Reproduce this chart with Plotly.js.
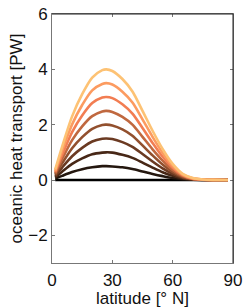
<!DOCTYPE html>
<html>
<head>
<meta charset="utf-8">
<script src="https://cdn.plot.ly/plotly-3.0.1.min.js"></script>
<style>
html,body{margin:0;padding:0;background:#fff;}
#chart{width:247px;height:308px;}
</style>
</head>
<body>
<div id="chart"></div>
<script>
var latitude = [1.6, 5, 10, 15, 20, 25, 27, 30, 35, 40, 45, 50, 55, 60, 65, 70, 75, 80, 87.5];

var transport00 = [0, 0, 0, 0, 0, 0, 0, 0, 0, 0, 0, 0, 0, 0, 0, 0, 0, 0, 0];
var transport05 = [0.05, 0.15, 0.29, 0.39, 0.46, 0.5, 0.5, 0.49, 0.46, 0.4, 0.31, 0.22, 0.14, 0.07, 0.03, 0.009, 0.003, 0, 0];
var transport10 = [0.1, 0.3, 0.58, 0.78, 0.93, 0.99, 1.0, 0.99, 0.91, 0.8, 0.63, 0.45, 0.28, 0.15, 0.055, 0.018, 0.005, 0.001, 0];
var transport15 = [0.14, 0.45, 0.86, 1.16, 1.39, 1.49, 1.5, 1.48, 1.37, 1.2, 0.94, 0.67, 0.42, 0.22, 0.08, 0.026, 0.008, 0.002, 0];
var transport20 = [0.19, 0.6, 1.15, 1.55, 1.85, 1.99, 2.0, 1.97, 1.83, 1.6, 1.25, 0.89, 0.56, 0.29, 0.11, 0.035, 0.01, 0.002, 0];
var transport25 = [0.24, 0.75, 1.44, 1.94, 2.31, 2.48, 2.5, 2.46, 2.28, 2.0, 1.56, 1.11, 0.7, 0.36, 0.14, 0.04, 0.013, 0.003, 0];
var transport30 = [0.29, 0.9, 1.73, 2.33, 2.78, 2.98, 3.0, 2.96, 2.74, 2.4, 1.88, 1.34, 0.84, 0.44, 0.17, 0.05, 0.015, 0.003, 0];
var transport35 = [0.33, 1.05, 2.01, 2.71, 3.24, 3.47, 3.5, 3.45, 3.19, 2.8, 2.19, 1.56, 0.98, 0.51, 0.19, 0.06, 0.018, 0.004, 0];
var transport40 = [0.38, 1.2, 2.3, 3.1, 3.7, 3.97, 4.0, 3.94, 3.65, 3.2, 2.5, 1.78, 1.12, 0.58, 0.22, 0.07, 0.02, 0.004, 0];

var seriesValues = [transport00, transport05, transport10, transport15, transport20, transport25, transport30, transport35, transport40];
var seriesColors = ['#000000', '#24170f', '#472716', '#6b3a22', '#92502e', '#c0683f', '#f27d52', '#fc9b60', '#fdc274'];

var xTickVals = [0, 30, 60, 90];
var yTickVals = [-2, 0, 2, 4, 6];

var traces = seriesValues.map(function (vals, i) {
  return {
    x: latitude,
    y: vals,
    type: 'scatter',
    mode: 'lines',
    line: {color: seriesColors[i], width: 2.6, shape: 'spline', smoothing: 0.8},
    hoverinfo: 'skip',
    showlegend: false
  };
});

var font = {family: '"Liberation Sans", Arial, Helvetica, sans-serif', size: 17, color: '#111'};

var layout = {
  width: 247,
  height: 308,
  margin: {l: 51.5, r: 14, t: 13.5, b: 44.7, pad: 0},
  paper_bgcolor: '#fff',
  plot_bgcolor: '#fff',
  font: font,
  showlegend: false,
  xaxis: {
    range: [0, 90],
    tickvals: xTickVals,
    ticktext: xTickVals.map(String),
    ticks: 'inside',
    ticklen: 3,
    tickcolor: '#777',
    ticklabelstandoff: 2,
    showline: true,
    linecolor: '#777',
    linewidth: 1,
    mirror: 'ticks',
    showgrid: false,
    zeroline: false,
    tickfont: font,
    title: {text: 'latitude [° N]', font: font, standoff: 0}
  },
  yaxis: {
    range: [-3, 6],
    tickvals: yTickVals,
    ticks: 'inside',
    ticklen: 3,
    tickcolor: '#777',
    showline: true,
    linecolor: '#777',
    linewidth: 1,
    mirror: 'ticks',
    showgrid: false,
    zeroline: false,
    tickfont: font,
    title: {text: 'oceanic heat transport [PW]', font: font, standoff: 1}
  },
  shapes: [
    {type: 'line', xref: 'paper', yref: 'paper', x0: 0, x1: 1, y0: 1, y1: 1, line: {color: '#222', width: 1}},
    {type: 'line', xref: 'paper', yref: 'paper', x0: 1, x1: 1, y0: 0, y1: 1, line: {color: '#222', width: 1}}
  ]
};

Plotly.newPlot('chart', traces, layout, {staticPlot: true, displayModeBar: false});
</script>
</body>
</html>
